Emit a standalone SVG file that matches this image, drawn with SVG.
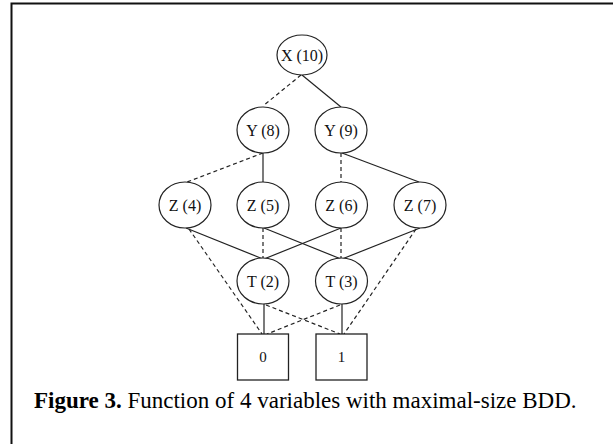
<svg xmlns="http://www.w3.org/2000/svg" width="613" height="444" viewBox="0 0 613 444">
<style>
.n ellipse{fill:#fff;stroke:#222;stroke-width:1.2}
.n rect{fill:#fff;stroke:#222;stroke-width:1.3}
.n text{font-family:"Liberation Serif","Times New Roman",serif;font-size:16px;fill:#111;text-anchor:middle}
.e line{stroke:#222;stroke-width:1.2;fill:none}
.e .d{stroke-dasharray:4,3}
.cap{font-family:"Liberation Serif","Times New Roman",serif;font-size:23px;fill:#000}
</style>
<rect width="613" height="444" fill="#fff"/>
<path d="M11.5,444 V3.5 H613" fill="none" stroke="#111" stroke-width="2"/>
<g id="edges" class="e">
<line class="d" x1="301" y1="75" x2="263" y2="106"/>
<line x1="302" y1="75" x2="341" y2="107"/>
<line class="d" x1="263" y1="153" x2="187" y2="182"/>
<line x1="263" y1="153" x2="263" y2="182"/>
<line class="d" x1="341" y1="153" x2="341" y2="182"/>
<line x1="342" y1="153" x2="419" y2="182"/>
<line x1="186" y1="228" x2="263" y2="259"/>
<line class="d" x1="189" y1="229" x2="262" y2="334"/>
<line class="d" x1="263" y1="228" x2="263" y2="259"/>
<line x1="264" y1="228" x2="341" y2="259"/>
<line x1="341" y1="228" x2="264" y2="259"/>
<line class="d" x1="341" y1="228" x2="341" y2="259"/>
<line x1="420" y1="228" x2="342" y2="259"/>
<line class="d" x1="416" y1="229" x2="344" y2="334"/>
<line x1="264" y1="304" x2="264" y2="334"/>
<line class="d" x1="266" y1="305" x2="340" y2="334"/>
<line x1="342" y1="304" x2="342" y2="334"/>
<line class="d" x1="340" y1="305" x2="267" y2="334"/>
</g>
<g id="x10" class="n"><ellipse cx="302" cy="55" rx="25" ry="20"/><text x="302" y="60.5">X (10)</text></g>
<g id="y8" class="n"><ellipse cx="263" cy="130" rx="26" ry="23"/><text x="263" y="135.5">Y (8)</text></g>
<g id="y9" class="n"><ellipse cx="341" cy="130" rx="26" ry="23"/><text x="341" y="135.5">Y (9)</text></g>
<g id="z4" class="n"><ellipse cx="185" cy="205" rx="26" ry="23"/><text x="185" y="210.5">Z (4)</text></g>
<g id="z5" class="n"><ellipse cx="263" cy="205" rx="26" ry="23"/><text x="263" y="210.5">Z (5)</text></g>
<g id="z6" class="n"><ellipse cx="341.5" cy="205" rx="26" ry="23"/><text x="341.5" y="210.5">Z (6)</text></g>
<g id="z7" class="n"><ellipse cx="420" cy="205" rx="26" ry="23"/><text x="420" y="210.5">Z (7)</text></g>
<g id="t2" class="n"><ellipse cx="263" cy="281" rx="26" ry="23"/><text x="263" y="286.5">T (2)</text></g>
<g id="t3" class="n"><ellipse cx="341.5" cy="281" rx="26" ry="23"/><text x="341.5" y="286.5">T (3)</text></g>
<g id="b0" class="n"><rect x="237.5" y="334" width="51" height="46"/><text x="263" y="362" style="font-size:15px">0</text></g>
<g id="b1" class="n"><rect x="316" y="334" width="51" height="46"/><text x="341.5" y="362" style="font-size:15px">1</text></g>
<text class="cap" x="34" y="408"><tspan font-weight="bold">Figure 3.</tspan> Function of 4 variables with maximal-size BDD.</text>
</svg>
